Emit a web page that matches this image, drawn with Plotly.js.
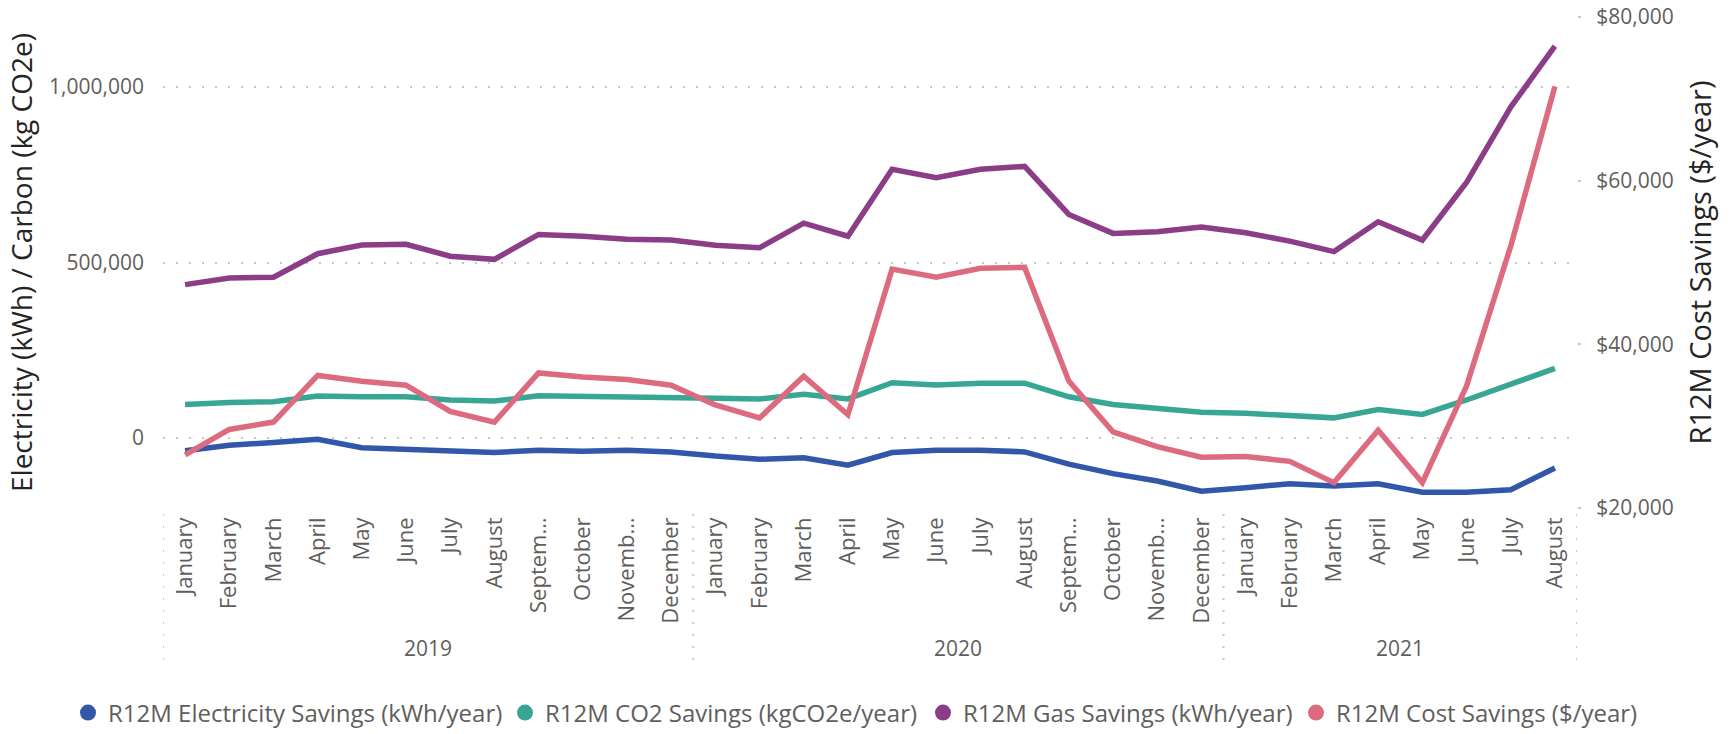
<!DOCTYPE html>
<html><head><meta charset="utf-8">
<script src="https://cdn.plot.ly/plotly-3.0.1.min.js"></script>
<style>html,body{margin:0;padding:0;background:#fff}#chart{width:1733px;height:734px}</style>
</head><body><div id="chart"></div>
<script>
const years = ['2019', '2020', '2021'];
const monthsPerYear = [12, 12, 8];
const monthLabels = [
  'January','February','March','April','May','June','July','August','Septem…','October','Novemb…','December',
  'January','February','March','April','May','June','July','August','Septem…','October','Novemb…','December',
  'January','February','March','April','May','June','July','August'
];
const seriesNames = [
  'R12M Electricity Savings (kWh/year)',
  'R12M CO2 Savings (kgCO2e/year)',
  'R12M Gas Savings (kWh/year)',
  'R12M Cost Savings ($/year)'
];
const seriesColors = ['#3257A8', '#37A794', '#8B3D88', '#DD6B7F'];
const electricity = [-37000,-21000,-13000,-4000,-28000,-32000,-37000,-42000,-35000,-38000,-35000,-40000,
  -52000,-61000,-57000,-78000,-42000,-35000,-35000,-40000,-75000,-102000,-123000,-152000,
  -142000,-131000,-137000,-131000,-155000,-155000,-148000,-86000];
const co2 = [95000,101000,103000,119000,117000,117000,108000,105000,120000,119000,117000,117000,
  113000,111000,124000,111000,157000,151000,156000,156000,117000,95000,84000,73000,
  70000,65000,57000,81000,67000,108000,154000,198000];
const gas = [437000,456000,458000,525000,550000,552000,518000,509000,580000,575000,566000,564000,
  549000,542000,612000,575000,766000,742000,766000,774000,637000,583000,588000,601000,
  585000,561000,531000,616000,564000,728000,943000,1117000];
const cost = [26500,29600,30500,36200,35500,35000,31800,30500,36500,36000,35700,35000,
  32600,31000,36100,31400,49200,48200,49300,49400,35500,29300,27500,26200,
  26300,25700,23100,29500,23100,34900,52000,71500];
const leftTicks = [0, 500000, 1000000];
const rightTicks = [20000, 40000, 60000, 80000];

const xIdx = monthLabels.map((_, i) => i);
const values = [electricity, co2, gas, cost];
const legendIds = ['legend', 'legend2', 'legend3', 'legend4'];
const legendLeftPx = [68, 505, 923, 1296];

const traces = values.map((v, k) => ({
  x: xIdx, y: v, type: 'scatter', mode: 'lines',
  name: seriesNames[k], showlegend: false,
  yaxis: k === 3 ? 'y2' : 'y',
  line: {color: seriesColors[k], width: 5.5},
  hoverinfo: 'skip'
}));
seriesNames.forEach((n, k) => traces.push({
  x: [null], y: [null], type: 'scatter', mode: 'markers', name: n,
  legend: legendIds[k],
  marker: {color: seriesColors[k], size: 20, symbol: 'circle'},
  showlegend: true, hoverinfo: 'skip'
}));

// year separators and labels
const shapes = [];
const annotations = [];
let start = 0;
const plotBottomPx = 508, plotHpx = 491;
const py = px => -(px - plotBottomPx) / plotHpx;
const divLine = {color:'#C8C6C4', width:2, dash:'2px,10px'};
shapes.push({type:'line', xref:'x', yref:'paper', x0:-0.5, x1:-0.5, y0:py(514), y1:py(668), line:divLine});
years.forEach((yr, i) => {
  const n = monthsPerYear[i];
  const end = start + n - 0.5;
  shapes.push({type:'line', xref:'x', yref:'paper', x0:end, x1:end, y0:py(514), y1:py(668), line:divLine});
  annotations.push({xref:'x', yref:'paper', x: start + n/2 - 0.5, y: py(648), text: yr,
    showarrow:false, yanchor:'middle', xanchor:'center', font:{size:21, color:'#605E5C'}});
  start += n;
});

const layout = {
  width: 1733, height: 734,
  margin: {l:163, r:156, t:17, b:226, autoexpand:false},
  paper_bgcolor: '#ffffff', plot_bgcolor: '#ffffff',
  font: {family: '"Open Sans", sans-serif', color: '#605E5C', size: 21},
  showlegend: true,
  xaxis: {range:[-0.5, 31.5], tickmode:'array', tickvals:xIdx, ticktext:monthLabels,
    tickangle:-90, showgrid:false, zeroline:false, showline:false, ticks:'',
    ticklabelstandoff:4, tickfont:{size:22, color:'#605E5C'}, fixedrange:true},
  yaxis: {range:[-200000, 1200000], tickmode:'array', tickvals:leftTicks,
    ticktext: leftTicks.map(v => v.toLocaleString('en-US')),
    showgrid:true, gridcolor:'#C8C6C4', griddash:'2px,11px', gridwidth:2,
    zeroline:false, showline:false, ticks:'', ticklabelstandoff:18,
    tickfont:{size:21, color:'#605E5C'},
    title:{text:'Electricity (kWh) / Carbon (kg CO2e)', standoff:8,
      font:{size:28, color:'#252423'}}},
  yaxis2: {overlaying:'y', side:'right', range:[20000, 80000], tickmode:'array',
    tickvals:rightTicks, ticktext: rightTicks.map(v => '$' + v.toLocaleString('en-US')),
    showgrid:false, zeroline:false,
    showline:false, ticks:'outside', ticklen:3, tickwidth:2, tickcolor:'#C8C6C4',
    ticklabelstandoff:11, tickfont:{size:21, color:'#605E5C'},
    title:{text:'R12M Cost Savings ($/year)', standoff:18,
      font:{size:29, color:'#252423'}}},
  shapes: shapes,
  annotations: annotations
};
legendIds.forEach((id, k) => {
  layout[id] = {orientation:'h', xref:'container', yref:'container',
    x: legendLeftPx[k] / 1733, y: 1 - 713/734, xanchor:'left', yanchor:'middle',
    font:{size:24, color:'#605E5C'}, itemwidth:30, bgcolor:'rgba(0,0,0,0)'};
});

Plotly.newPlot('chart', traces, layout, {displayModeBar:false, staticPlot:true});
</script>
</body></html>
